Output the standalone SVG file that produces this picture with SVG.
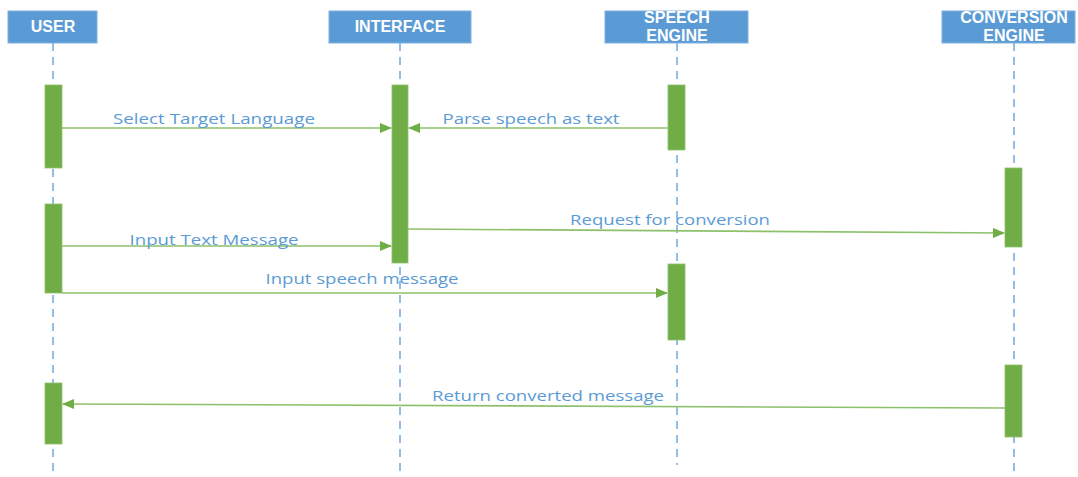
<svg xmlns="http://www.w3.org/2000/svg" width="1078" height="477" viewBox="0 0 1078 477">
<style>
.hdr{fill:#5B9BD5;stroke:#7FB0DE;stroke-width:1}
.ht{fill:#fff;font-family:"Liberation Sans",Arial,sans-serif;font-weight:bold;font-size:16px;text-anchor:middle}
.life{stroke:#5B9BD5;stroke-width:1.3;stroke-dasharray:8,6;fill:none}
.act{fill:#70AD47;stroke:#8CC06A;stroke-width:0.8}
.msg{stroke:#8CC06A;stroke-width:1.6;fill:none;marker-end:url(#ah)}
.lbl{fill:#5B9BD5;font-family:"Open Sans","Liberation Sans",sans-serif;font-size:15px;text-anchor:middle}
</style>
<defs>
<marker id="ah" markerWidth="12" markerHeight="10" refX="11" refY="5" orient="auto" markerUnits="userSpaceOnUse">
<path d="M0,0 L12,5 L0,10 Z" fill="#70AD47"/>
</marker>
</defs>
<g id="user">
<line class="life" x1="53" y1="43" x2="53" y2="477"/>
<rect class="hdr" x="8" y="11" width="89" height="32"/>
<text class="ht" x="53" y="32">USER</text>
<rect class="act" x="45" y="85" width="17" height="83"/>
<rect class="act" x="45" y="204" width="17" height="89"/>
<rect class="act" x="45" y="383" width="17" height="61"/>
</g>
<g id="interface">
<line class="life" x1="400" y1="43" x2="400" y2="472"/>
<rect class="hdr" x="329" y="11" width="142" height="32"/>
<text class="ht" x="400" y="32">INTERFACE</text>
<rect class="act" x="392" y="85" width="16" height="178"/>
</g>
<g id="speech">
<line class="life" x1="677" y1="43" x2="677" y2="465"/>
<rect class="hdr" x="605" y="11" width="143" height="32"/>
<text class="ht" x="677" y="23">SPEECH</text>
<text class="ht" x="677" y="41">ENGINE</text>
<rect class="act" x="668" y="85" width="17" height="65"/>
<rect class="act" x="668" y="264" width="17" height="76"/>
</g>
<g id="conversion">
<line class="life" x1="1014" y1="43" x2="1014" y2="472"/>
<rect class="hdr" x="942" y="11" width="133" height="32"/>
<text class="ht" x="1014" y="23">CONVERSION</text>
<text class="ht" x="1014" y="41">ENGINE</text>
<rect class="act" x="1005" y="168" width="17" height="79"/>
<rect class="act" x="1005" y="365" width="17" height="72"/>
</g>
<g id="connectors">
<line class="msg" x1="62" y1="128" x2="391" y2="128"/>
<line class="msg" x1="668" y1="128" x2="409" y2="128"/>
<line class="msg" x1="408" y1="229" x2="1004" y2="233"/>
<line class="msg" x1="62" y1="246" x2="391" y2="246"/>
<line class="msg" x1="62" y1="293" x2="667" y2="293"/>
<line class="msg" x1="1005" y1="408" x2="63" y2="404"/>
<text class="lbl" x="214" y="124" textLength="202" lengthAdjust="spacingAndGlyphs">Select Target Language</text>
<text class="lbl" x="531" y="124" textLength="177" lengthAdjust="spacingAndGlyphs">Parse speech as text</text>
<text class="lbl" x="670" y="225" textLength="200" lengthAdjust="spacingAndGlyphs">Request for conversion</text>
<text class="lbl" x="214" y="245" textLength="169" lengthAdjust="spacingAndGlyphs">Input Text Message</text>
<text class="lbl" x="362" y="284" textLength="193" lengthAdjust="spacingAndGlyphs">Input speech message</text>
<text class="lbl" x="548" y="401" textLength="232" lengthAdjust="spacingAndGlyphs">Return converted message</text>
</g>
</svg>
